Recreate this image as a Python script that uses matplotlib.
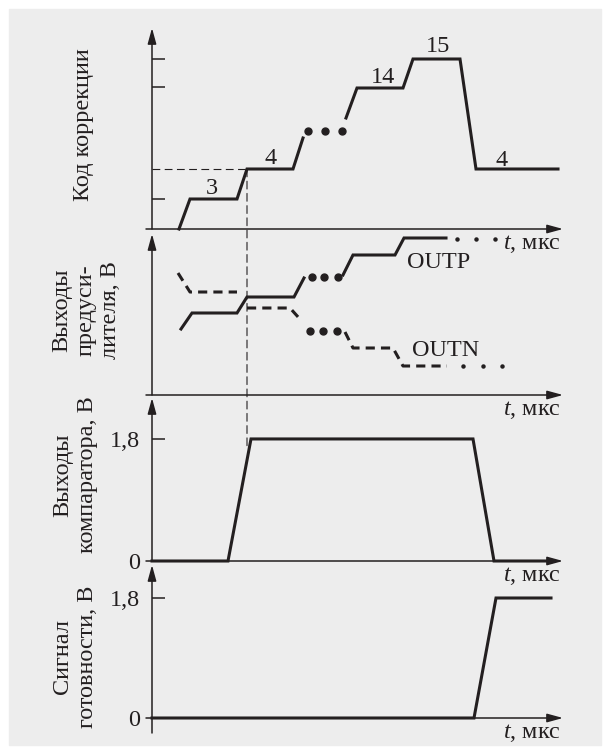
import matplotlib.pyplot as plt
from matplotlib.patches import Rectangle, ConnectionPatch

plt.rcParams['font.family'] = ['Liberation Serif', 'DejaVu Serif']
plt.rcParams['mathtext.fontset'] = 'custom'
plt.rcParams['mathtext.rm'] = 'Liberation Serif'
plt.rcParams['mathtext.it'] = 'Liberation Serif:italic'

INK = '#231f20'
BG = '#ededed'
FS = 17.5

# ── Data (time axis has no scale in the original: 1 unit ~ 10 px) ─────────────

T_END = 41.1

# panel 1: correction code (vertical in the same arbitrary units)
code_t1 = [2.7, 3.8, 8.5, 9.5, 14.1, 15.1]
code_y1 = [0.0, 3.0, 3.0, 6.0, 6.0, 9.1]
code_dots_t = [15.6, 17.3, 19.0]
code_dots_y = [9.8, 9.8, 9.8]
code_t2 = [19.4, 20.5, 25.1, 26.1, 30.8, 32.4, 40.6]
code_y2 = [11.1, 14.1, 14.1, 17.0, 17.0, 6.0, 6.0]
code_labels = ['3', '4', '14', '15', '4']
code_label_t = [6.0, 11.9, 23.1, 28.6, 35.0]
code_label_y = [3.5, 6.5, 14.6, 17.7, 6.3]
code_ticks = [3.0, 14.2, 17.0]

# panel 2: preamplifier outputs
outp_t1 = [2.9, 4.0, 8.5, 9.5, 14.2, 15.2]
outp_y1 = [6.6, 8.2, 8.2, 9.8, 9.8, 11.7]
outp_dots_t = [16.0, 17.2, 18.6]
outp_dots_y = [11.8, 11.8, 11.8]
outp_t2 = [19.1, 20.1, 24.3, 25.2, 29.4]
outp_y2 = [12.0, 14.0, 14.0, 15.7, 15.7]
outp_tail_t = [30.5, 32.4, 34.3]
outp_tail_y = [15.6, 15.6, 15.6]

outn_t1 = [2.6, 3.8, 8.5]
outn_y1 = [12.2, 10.3, 10.3]
outn_t2 = [9.5, 13.8, 14.7]
outn_y2 = [8.7, 8.7, 7.7]
outn_dots_t = [15.8, 17.1, 18.5]
outn_dots_y = [6.4, 6.4, 6.4]
outn_t3 = [19.3, 20.1, 24.1, 25.1, 29.5]
outn_y3 = [6.3, 4.7, 4.7, 2.9, 2.9]
outn_tail_t = [31.1, 33.1, 35.0]
outn_tail_y = [2.9, 2.9, 2.9]

# panel 3: comparator output, V
comp_t = [0.0, 7.6, 9.9, 32.1, 34.2, 39.6]
comp_v = [0.0, 0.0, 1.8, 1.8, 0.0, 0.0]

# panel 4: ready signal, V
ready_t = [0.0, 32.2, 34.4, 39.9]
ready_v = [0.0, 0.0, 1.8, 1.8]

MARK_T = 9.5        # moment marked by the dashed guide
MARK_CODE = 6.0
MARK_V = 1.68

# ── Layout (pixels of the 610x754 picture) ────────────────────────────────────

W, H = 610, 754
X0, X1 = 152, 563

fig = plt.figure(figsize=(W / 100, H / 100), dpi=100)
fig.add_artist(Rectangle((9 / W, 9 / H), 592 / W, 736 / H,
                         transform=fig.transFigure, color=BG, zorder=-5))

AXIS_ARROW = dict(arrowstyle='-|>,head_length=0.95,head_width=0.26',
                  mutation_scale=10, lw=1.1, color=INK,
                  shrinkA=0, shrinkB=0)


def make_panel(base, top, ymax, ticks=(), ticklabels=None, y_from=0.0):
    ax = fig.add_axes([X0 / W, 1 - base / H, (X1 - X0) / W, (base - top) / H])
    ax.set_xlim(0, T_END)
    ax.set_ylim(0, ymax)
    for s in ax.spines.values():
        s.set_visible(False)
    ax.patch.set_visible(False)
    ax.set_xticks([])
    ax.set_yticks(list(ticks))
    ax.set_yticklabels(ticklabels if ticklabels else [''] * len(ticks))
    ax.tick_params(axis='y', direction='in', length=9, width=1.1, color=INK,
                   pad=8.5, labelsize=FS, labelcolor=INK)
    ax.annotate('', xy=(T_END, 0), xytext=(-0.6, 0),
                arrowprops=AXIS_ARROW, annotation_clip=False)
    ax.annotate('', xy=(0, ymax), xytext=(0, y_from),
                arrowprops=AXIS_ARROW, annotation_clip=False)
    ax.annotate('$t$, мкс', xy=(T_END - 0.2, 0), xytext=(0, -11),
                textcoords='offset points', ha='right', va='center',
                fontsize=FS, color=INK, annotation_clip=False)
    return ax


trace = dict(color=INK, lw=2.2, solid_joinstyle='miter', clip_on=False)

# ── Panel 1 ──────────────────────────────────────────────────────────────────
ax1 = make_panel(229, 28, 20.1, ticks=code_ticks)
ax1.plot(code_t1, code_y1, **trace)
ax1.plot(code_t2, code_y2, **trace)
ax1.plot(code_dots_t, code_dots_y, 'o', color=INK, ms=5, clip_on=False)
for lab, t, y in zip(code_labels, code_label_t, code_label_y):
    ax1.text(t, y, lab, ha='center', va='baseline', fontsize=FS, color=INK)
ax1.plot([0, MARK_T], [MARK_CODE, MARK_CODE], color=INK, lw=0.8,
         linestyle=(0, (7, 4)))

# ── Panel 2 ──────────────────────────────────────────────────────────────────
ax2 = make_panel(395, 234, 16.1)
ax2.plot(outp_t1, outp_y1, **trace)
ax2.plot(outp_t2, outp_y2, **trace)
ax2.plot(outp_dots_t, outp_dots_y, 'o', color=INK, ms=5, clip_on=False)
ax2.plot(outp_tail_t, outp_tail_y, 'o', color=INK, ms=2.2, clip_on=False)
dashed = dict(trace, linestyle=(0, (3, 2)))
ax2.plot(outn_t1, outn_y1, **dashed)
ax2.plot(outn_t2, outn_y2, **dashed)
ax2.plot(outn_t3, outn_y3, **dashed)
ax2.plot(outn_dots_t, outn_dots_y, 'o', color=INK, ms=5, clip_on=False)
ax2.plot(outn_tail_t, outn_tail_y, 'o', color=INK, ms=2.2, clip_on=False)
ax2.text(25.5, 12.7, 'OUTP', ha='left', va='baseline', fontsize=FS, color=INK)
ax2.text(26.0, 3.9, 'OUTN', ha='left', va='baseline', fontsize=FS, color=INK)

# ── Panel 3 ──────────────────────────────────────────────────────────────────
ax3 = make_panel(561, 398, 2.404, ticks=[0, 1.8], ticklabels=['0', '1,8'])
ax3.plot(comp_t, comp_v, **trace)

# ── Panel 4 ──────────────────────────────────────────────────────────────────
ax4 = make_panel(718, 565, 2.295, ticks=[0, 1.8], ticklabels=['0', '1,8'],
                 y_from=-0.225)
ax4.plot(ready_t, ready_v, **trace)

# dashed guide from the code step down to the comparator edge
guide = ConnectionPatch(xyA=(MARK_T, MARK_CODE), coordsA=ax1.transData,
                        xyB=(MARK_T, MARK_V), coordsB=ax3.transData,
                        color=INK, lw=0.8, linestyle=(0, (7, 4)))
fig.add_artist(guide)

# ── Axis titles ───────────────────────────────────────────────────────────────
ylabels = ['Код коррекции', 'Выходы\nпредуси-\nлителя, В',
           'Выходы\nкомпаратора, В', 'Сигнал\nготовности, В']
ylabel_x = [84, 86, 75, 75]
ylabel_y = [125, 310, 475, 657]
for lab, x, y in zip(ylabels, ylabel_x, ylabel_y):
    fig.text(x / W, 1 - y / H, lab, rotation=90, ha='center', va='center',
             multialignment='center', fontsize=FS, color=INK, linespacing=1.2)

fig.savefig('out.png', dpi=100)
